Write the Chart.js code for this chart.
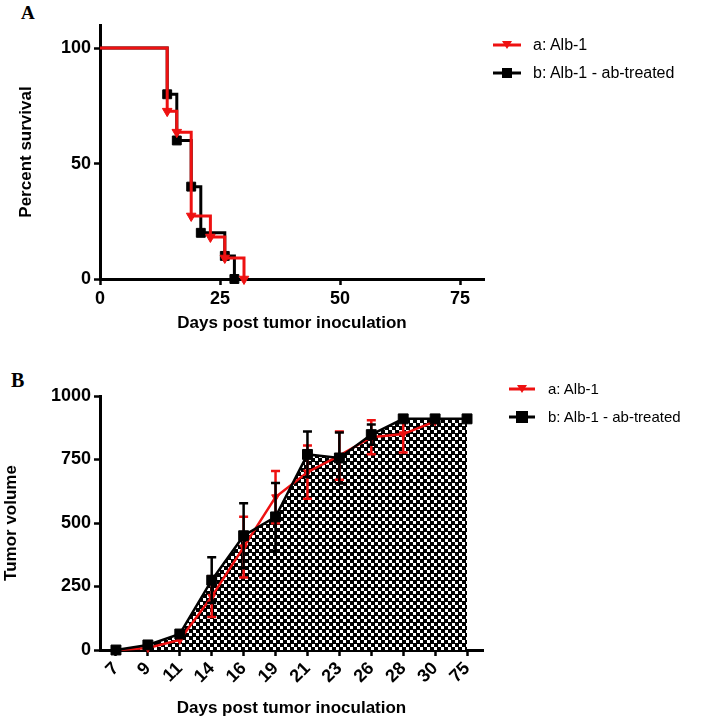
<!DOCTYPE html>
<html><head><meta charset="utf-8">
<script src="https://cdn.jsdelivr.net/npm/chart.js@4.4.1/dist/chart.umd.min.js"></script>
<style>
html,body{margin:0;padding:0;background:#fff;}
body{width:707px;height:722px;position:relative;overflow:hidden;font-family:"Liberation Sans",Arial,sans-serif;}
canvas{position:absolute;left:0;}
#cA{top:0;}
#cB{top:360px;}
.panel{position:absolute;font-family:"Liberation Serif","Times New Roman",serif;font-weight:bold;color:#000;line-height:20px;}
.lt{position:absolute;white-space:nowrap;color:#000;line-height:20px;}
svg{position:absolute;}
</style></head>
<body>
<div class="panel" style="left:21px;top:3px;font-size:19px;">A</div>
<div class="panel" style="left:11px;top:370px;font-size:20px;">B</div>
<canvas id="cA" width="707" height="345"></canvas>
<canvas id="cB" width="707" height="362"></canvas>

<svg style="left:492px;top:38px" width="30" height="14"><line x1="1" y1="7" x2="29" y2="7" stroke="#ee1111" stroke-width="3"/><polygon points="10,3 20,3 15,11" fill="#ee1111"/></svg>
<div class="lt" style="left:533px;top:35px;font-size:16px;">a: Alb-1</div>
<svg style="left:492px;top:66px" width="30" height="14"><line x1="1" y1="7" x2="29" y2="7" stroke="#000" stroke-width="3"/><rect x="10" y="2" width="10" height="10" fill="#000"/></svg>
<div class="lt" style="left:533px;top:63px;font-size:16px;">b: Alb-1 - ab-treated</div>

<svg style="left:508px;top:382px" width="28" height="14"><line x1="1" y1="7" x2="27" y2="7" stroke="#ee1111" stroke-width="3"/><polygon points="9,3 19,3 14,11" fill="#ee1111"/></svg>
<div class="lt" style="left:548px;top:379px;font-size:15px;">a: Alb-1</div>
<svg style="left:508px;top:410px" width="28" height="14"><line x1="1" y1="7" x2="27" y2="7" stroke="#000" stroke-width="3"/><rect x="8" y="1" width="12" height="12" fill="#000"/></svg>
<div class="lt" style="left:548px;top:407px;font-size:15px;">b: Alb-1 - ab-treated</div>

<script>
// ---------- Panel A: survival ----------
const survDaysA = [0, 14, 16, 19, 23, 26, 30];
const survA     = [100, 72.7, 63.6, 27.3, 18.2, 9.1, 0];
const survDaysB = [0, 14, 16, 19, 21, 26, 28];
const survB     = [100, 80, 60, 40, 20, 10, 0];
const xTicksA = [0, 25, 50, 75];
const yTicksA = [0, 50, 100];

// ---------- Panel B: tumor volume ----------
const daysB  = ['7','9','11','14','16','19','21','23','26','28','30','75'];
const volA   = [0, 8, 40, 210, 405, 602, 700, 765, 838, 850, 900, null];
const errVolA= [0, 0, 0, 80, 120, 103, 105, 95, 67, 72, 0, null];
const volB   = [0, 20, 63, 275, 450, 524, 770, 756, 848, 910, 910, 910];
const errVolB= [0, 0, 0, 90, 128, 133, 90, 100, 40, 0, 0, 0];
const yTicksB = [0, 250, 500, 750, 1000];

const RED = '#ee1111', BLACK = '#000';
const FAM = '"Liberation Sans", Arial, sans-serif';
const tickFont = {family: FAM, size: 18, weight: 'bold'};
const titleFont = {family: FAM, size: 17, weight: 'bold'};
const plain = v => String(v);

function checker(){
  const c = document.createElement('canvas'); c.width = 14; c.height = 14;
  const g = c.getContext('2d');
  g.fillStyle = '#000'; g.fillRect(0,0,14,14);
  g.fillStyle = '#fff';
  [[0,0],[7,0],[0,7],[7,7],[4,4],[11,4],[4,11],[11,11]].forEach(p => g.fillRect(p[0], p[1], 3, 3));
  return g.createPattern(c, 'repeat');
}

const errorBars = {
  id: 'errorBars',
  beforeDatasetDraw(chart, args) {
    const ds = chart.data.datasets[args.index];
    if (!ds.errors) return;
    const ys = chart.scales.y, ctx = chart.ctx;
    ctx.save();
    ctx.strokeStyle = ds.borderColor; ctx.lineWidth = 2.5;
    args.meta.data.forEach((pt, i) => {
      const v = ds.data[i], e = ds.errors[i];
      if (v == null || !e) return;
      const x = pt.x, yt = ys.getPixelForValue(v + e), yb = ys.getPixelForValue(v - e);
      ctx.beginPath();
      ctx.moveTo(x, yt); ctx.lineTo(x, yb);
      ctx.moveTo(x - 4.5, yt); ctx.lineTo(x + 4.5, yt);
      ctx.moveTo(x - 4.5, yb); ctx.lineTo(x + 4.5, yb);
      ctx.stroke();
    });
    ctx.restore();
  }
};

function axisCommon(){
  return {
    grid: {display: true, drawOnChartArea: false, drawTicks: true, tickLength: 6, tickWidth: 2.5, tickColor: '#000', color: '#000'},
    border: {display: true, color: '#000', width: 3},
  };
}

// Chart A
new Chart(document.getElementById('cA'), {
  type: 'line',
  data: {
    datasets: [
      {label: 'a: Alb-1', data: survDaysA.map((d, i) => ({x: d, y: survA[i]})),
       stepped: 'before', borderColor: RED, backgroundColor: RED, borderWidth: 3,
       pointStyle: 'triangle', rotation: 180, pointRadius: survDaysA.map((d, i) => i === 0 ? 0 : 5.5),
       pointBorderWidth: 1, pointBackgroundColor: RED, pointBorderColor: RED, fill: false, clip: false, order: 0},
      {label: 'b: Alb-1 - ab-treated', data: survDaysB.map((d, i) => ({x: d, y: survB[i]})),
       stepped: 'before', borderColor: BLACK, backgroundColor: BLACK, borderWidth: 3,
       pointStyle: 'rect', pointRadius: survDaysB.map((d, i) => i === 0 ? 0 : 6.3),
       pointBorderWidth: 1, pointBackgroundColor: BLACK, pointBorderColor: BLACK, fill: false, clip: false, order: 1}
    ]
  },
  options: {
    responsive: false, animation: false, events: [],
    layout: {padding: {left: 16, right: 223, top: 25, bottom: 11.8}},
    plugins: {legend: {display: false}, tooltip: {enabled: false}},
    scales: {
      x: Object.assign(axisCommon(), {
        type: 'linear', min: 0, max: 80,
        ticks: {font: tickFont, color: '#000', padding: 3, maxRotation: 0, callback: plain},
        afterBuildTicks: s => { s.ticks = xTicksA.map(v => ({value: v})); },
        title: {display: true, text: 'Days post tumor inoculation', font: titleFont, color: '#000', padding: 0},
        afterFit: s => { s.height = 54.2; }
      }),
      y: Object.assign(axisCommon(), {
        type: 'linear', min: 0, max: 110,
        ticks: {font: tickFont, color: '#000', padding: 3, callback: plain},
        afterBuildTicks: s => { s.ticks = yTicksA.map(v => ({value: v})); },
        title: {display: true, text: 'Percent survival', font: titleFont, color: '#000', padding: 0},
        afterFit: s => { s.width = 84; }
      })
    }
  }
});

// Chart B
new Chart(document.getElementById('cB'), {
  type: 'line',
  plugins: [errorBars],
  data: {
    labels: daysB,
    datasets: [
      {label: 'a: Alb-1', data: volA, errors: errVolA, borderColor: RED, backgroundColor: RED, borderWidth: 2.5,
       pointStyle: 'triangle', rotation: 180, pointRadius: 4.5, pointBorderWidth: 1,
       pointBackgroundColor: RED, pointBorderColor: RED, fill: false, clip: false, order: 1, tension: 0},
      {label: 'b: Alb-1 - ab-treated', data: volB, errors: errVolB, borderColor: BLACK, backgroundColor: checker(), borderWidth: 2.5,
       pointStyle: 'rect', pointRadius: 7, pointBorderWidth: 1,
       pointBackgroundColor: BLACK, pointBorderColor: BLACK, fill: 'origin', clip: false, order: 0, tension: 0}
    ]
  },
  options: {
    responsive: false, animation: false, events: [],
    layout: {padding: {left: 1, right: 224, top: 36, bottom: 3.8}},
    plugins: {legend: {display: false}, tooltip: {enabled: false}, filler: {drawTime: 'beforeDatasetsDraw'}},
    scales: {
      x: Object.assign(axisCommon(), {
        type: 'category', offset: true,
        ticks: {font: tickFont, color: '#000', padding: 2, minRotation: 45, maxRotation: 45, autoSkip: false},
        title: {display: true, text: 'Days post tumor inoculation', font: titleFont, color: '#000', padding: 0},
        afterFit: s => { s.height = 68.2; }
      }),
      y: Object.assign(axisCommon(), {
        type: 'linear', min: 0, max: 1000,
        ticks: {font: tickFont, color: '#000', padding: 3, callback: plain},
        afterBuildTicks: s => { s.ticks = yTicksB.map(v => ({value: v})); },
        title: {display: true, text: 'Tumor volume', font: titleFont, color: '#000', padding: 0},
        afterFit: s => { s.width = 99; }
      })
    }
  }
});
</script>
</body></html>
